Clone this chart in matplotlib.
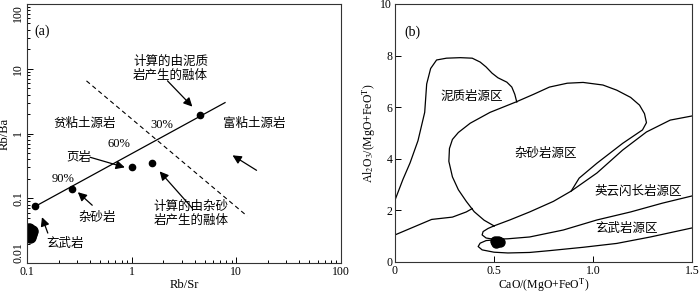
import matplotlib
matplotlib.use('Agg')
import matplotlib.pyplot as plt
from matplotlib.ticker import LogLocator, NullFormatter
import numpy as np

SERIF = 'Liberation Serif'
CJK = ['Noto Sans CJK SC', 'DejaVu Sans']
plt.rcParams['font.family'] = [SERIF, 'Noto Sans CJK SC']
plt.rcParams['mathtext.fontset'] = 'stix'

# ---- panel (a) data: Rb/Sr vs Rb/Ba ----
mix_line_x = [0.12, 7.8]
mix_line_y = [0.075, 3.0]
dots_x = [0.12, 0.27, 1.0, 1.58, 4.5]
dots_y = [0.075, 0.14, 0.30, 0.35, 1.96]
basalt_x = [0.105, 0.110, 0.107, 0.112, 0.102]
basalt_y = [0.033, 0.028, 0.025, 0.031, 0.029]
divide_x = [0.37, 12.7]
divide_y = [6.5, 0.053]
pct_labels = ['30%', '60%', '90%']
pct_x = [1.93, 0.75, 0.22]
pct_y = [1.33, 0.68, 0.20]

# ---- panel (b) data: CaO/(MgO+FeOT) vs Al2O3/(MgO+FeOT) ----
pelite_x = [0.0, 0.04, 0.076, 0.116, 0.15, 0.16, 0.18, 0.21, 0.26, 0.33, 0.39,
            0.43, 0.46, 0.49, 0.52, 0.565, 0.59, 0.605, 0.615]
pelite_y = [2.4, 3.2, 3.84, 4.7, 5.8, 6.9, 7.5, 7.83, 7.9, 7.92, 7.9,
            7.75, 7.56, 7.32, 7.14, 6.97, 6.78, 6.5, 6.2]
graywacke_x = [0.50, 0.45, 0.40, 0.36, 0.32, 0.29, 0.272, 0.275, 0.29, 0.32, 0.38,
               0.48, 0.61, 0.70, 0.78, 0.87, 0.95, 1.05, 1.12, 1.19, 1.235,
               1.26, 1.27, 1.25, 1.15, 1.02, 0.93, 0.89, 0.80, 0.68, 0.58, 0.50]
graywacke_y = [1.40, 1.62, 1.95, 2.35, 2.8, 3.3, 3.9, 4.4, 4.75, 5.02, 5.38,
               5.8, 6.2, 6.5, 6.78, 6.93, 6.96, 6.86, 6.66, 6.38, 6.08,
               5.75, 5.4, 5.12, 4.6, 3.83, 3.25, 2.75, 2.35, 1.94, 1.63, 1.40]
lower_left_x = [0.0, 0.185, 0.29, 0.36, 0.39]
lower_left_y = [1.05, 1.65, 1.74, 1.94, 2.07]
tonalite_top_x = [0.89, 1.02, 1.15, 1.27, 1.39, 1.5]
tonalite_top_y = [2.75, 3.45, 4.34, 5.04, 5.5, 5.66]
tonalite_low_x = [1.5, 1.35, 1.19, 1.02, 0.85, 0.68, 0.57, 0.50, 0.46, 0.44, 0.445, 0.47, 0.50]
tonalite_low_y = [2.56, 2.28, 1.94, 1.63, 1.24, 0.97, 0.9, 0.88, 0.93, 1.05, 1.18, 1.3, 1.40]
basalt_field_x = [0.52, 0.46, 0.43, 0.42, 0.44, 0.50, 0.57, 0.68, 0.78, 0.95, 1.12, 1.29, 1.5]
basalt_field_y = [0.87, 0.83, 0.73, 0.60, 0.47, 0.38, 0.35, 0.37, 0.44, 0.57, 0.72, 0.97, 1.32]
sample_x = [0.505, 0.52, 0.53, 0.51]
sample_y = [0.81, 0.83, 0.77, 0.75]


def cjk(ax, x, y, s, **kw):
    ax.text(x, y, s, family=CJK, fontsize=9, ha='center', va='center',
            linespacing=1.1, **kw)


def arrow(ax, xy_from, xy_to):
    ax.annotate('', xy=xy_to, xytext=xy_from,
                arrowprops=dict(arrowstyle='-|>', color='k', lw=0.9,
                                mutation_scale=13, shrinkA=0, shrinkB=0))


fig = plt.figure(figsize=(7.0, 2.93), dpi=100)
ax1 = fig.add_axes([27/700, 30/293, 314/700, 259/293])
ax2 = fig.add_axes([395/700, 31/293, 297/700, 258/293])

# panel (a)
ax1.set_xscale('log')
ax1.set_yscale('log')
ax1.set_xlim(0.1, 100)
ax1.set_ylim(0.01, 100)
ax1.plot(mix_line_x, mix_line_y, color='k', lw=0.9)
ax1.plot(divide_x, divide_y, color='k', lw=0.8, ls=(0, (4, 3)))
ax1.plot(dots_x, dots_y, 'o', color='k', ms=4.5)
ax1.plot(basalt_x, basalt_y, 'o', color='k', ms=8)
for s, x, y in zip(pct_labels, pct_x, pct_y):
    ax1.text(x, y, s, fontsize=9, ha='center', va='center')
ax1.text(0.139, 38, '(a)', fontsize=10, ha='center', va='center')
cjk(ax1, 2.35, 10.3, '计算的由泥质\n岩产生的融体')
cjk(ax1, 0.357, 1.43, '贫粘土源岩')
cjk(ax1, 14.8, 1.43, '富粘土源岩')
cjk(ax1, 0.31, 0.43, '页岩')
cjk(ax1, 0.47, 0.051, '杂砂岩')
cjk(ax1, 0.23, 0.020, '玄武岩')
cjk(ax1, 3.7, 0.059, '计算的由杂砂\n岩产生的融体')
arrow(ax1, (2.2, 6.5), (3.8, 2.6))
arrow(ax1, (0.40, 0.43), (0.86, 0.30))
arrow(ax1, (0.42, 0.078), (0.306, 0.124))
arrow(ax1, (0.158, 0.029), (0.139, 0.051))
arrow(ax1, (3.8, 0.07), (1.85, 0.26))
arrow(ax1, (15.6, 0.27), (9.2, 0.46))
ax1.xaxis.set_minor_locator(LogLocator(base=10, subs=np.arange(2, 10), numticks=10))
ax1.yaxis.set_minor_locator(LogLocator(base=10, subs=np.arange(2, 10), numticks=10))
ax1.xaxis.set_minor_formatter(NullFormatter())
ax1.yaxis.set_minor_formatter(NullFormatter())
ax1.set_xticks([0.1, 1, 10, 100])
ax1.set_xticklabels(['0.1', '1', '10', '100'])
ax1.set_yticks([0.01, 0.1, 1, 10, 100])
ax1.set_yticklabels(['0.01', '0.1', '1', '10', '100'], rotation=90, va='center')
ylabs = ax1.get_yticklabels()
ylabs[0].set_va('bottom')
ylabs[-1].set_va('top')
ax1.set_xlabel('Rb/Sr', fontsize=9, labelpad=1)
ax1.set_ylabel('Rb/Ba', fontsize=9, labelpad=1)

# panel (b)
ax2.set_xlim(0, 1.5)
ax2.set_ylim(0, 10)
for xs, ys in [(pelite_x, pelite_y), (graywacke_x, graywacke_y),
               (lower_left_x, lower_left_y), (tonalite_top_x, tonalite_top_y),
               (tonalite_low_x, tonalite_low_y), (basalt_field_x, basalt_field_y)]:
    ax2.plot(xs, ys, color='k', lw=0.9, solid_joinstyle='round')
ax2.plot(sample_x, sample_y, 'o', color='k', ms=6.5)
ax2.text(0.086, 8.9, '(b)', fontsize=10, ha='center', va='center')
cjk(ax2, 0.39, 6.4, '泥质岩源区')
cjk(ax2, 0.76, 4.2, '杂砂岩源区')
cjk(ax2, 1.23, 2.75, '英云闪长岩源区')
cjk(ax2, 1.17, 1.28, '玄武岩源区')
ax2.set_xticks([0, 0.5, 1.0, 1.5])
ax2.set_xticklabels(['0', '0.5', '1.0', '1.5'])
ax2.set_yticks([0, 2, 4, 6, 8, 10])
ax2.set_xlabel('CaO/(MgO+FeO$^\\mathrm{T}$)', fontsize=8.5, labelpad=0)
ax2.set_ylabel('Al$_2$O$_3$/(MgO+FeO$^\\mathrm{T}$)', fontsize=8.5, labelpad=2)

for ax in (ax1, ax2):
    ax.tick_params(which='both', direction='in', top=False, right=False,
                   labelsize=8.5, pad=2, width=0.7)
    ax.tick_params(which='major', length=4)
    ax.tick_params(which='minor', length=2)
    for sp in ax.spines.values():
        sp.set_linewidth(0.8)
        sp.set_color('#333333')

fig.savefig('out.png', dpi=100)
